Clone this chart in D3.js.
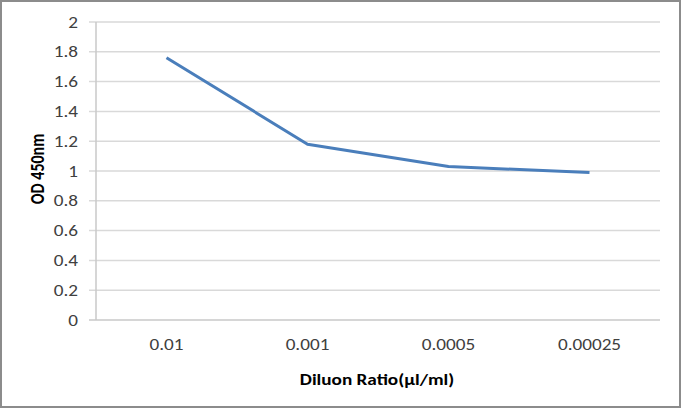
<!DOCTYPE html>
<html>
<head>
<meta charset="utf-8">
<script src="https://cdn.jsdelivr.net/npm/d3@7"></script>
<style>
  body { margin: 0; background: #fff; }
  text { font-family: Carlito, Lato, "Open Sans", sans-serif; fill: #404040; }
</style>
</head>
<body>
<div id="chart"></div>
<script>
var ratios = ["0.01", "0.001", "0.0005", "0.00025"];
var odValues = [1.76, 1.18, 1.03, 0.99];
var yTicks = [0, 0.2, 0.4, 0.6, 0.8, 1, 1.2, 1.4, 1.6, 1.8, 2];

var w = 683, h = 410,
    pl = 96, pr = 660, pt = 22, pb = 320,
    sx = 1.2; // text in the reference is stretched sideways

var svg = d3.select("#chart").append("svg")
    .attr("width", w)
    .attr("height", h);

// outer frame
svg.append("rect")
    .attr("x", 1).attr("y", 1)
    .attr("width", 679).attr("height", 406)
    .attr("fill", "#fff")
    .attr("stroke", "#8c8c8c")
    .attr("stroke-width", 2);

var x = d3.scaleBand().domain(ratios).range([pl, pr]);
var y = d3.scaleLinear().domain([0, 2]).range([pb, pt]);

// gridlines
svg.selectAll("line.grid")
    .data(yTicks)
  .enter().append("line")
    .attr("class", "grid")
    .attr("x1", pl - 7).attr("x2", pr)
    .attr("y1", function(d) { return y(d); })
    .attr("y2", function(d) { return y(d); })
    .attr("stroke", function(d) { return d === 0 ? "#c8c8c8" : "#d9d9d9"; })
    .attr("stroke-width", 1.5);

// y axis line
svg.append("line")
    .attr("x1", pl).attr("x2", pl)
    .attr("y1", pt).attr("y2", pb)
    .attr("stroke", "#c8c8c8")
    .attr("stroke-width", 1.5);

// y tick labels
svg.selectAll("text.ytick")
    .data(yTicks)
  .enter().append("text")
    .attr("class", "ytick")
    .attr("transform", function(d) {
      return "translate(78," + (y(d) + 5.5) + ")scale(" + sx + ",1)";
    })
    .attr("text-anchor", "end")
    .style("font-size", "16px")
    .text(function(d) { return d; });

// x tick labels
svg.selectAll("text.xtick")
    .data(ratios)
  .enter().append("text")
    .attr("class", "xtick")
    .attr("transform", function(d) {
      return "translate(" + (x(d) + x.bandwidth() / 2) + ",350)scale(" + sx + ",1)";
    })
    .attr("text-anchor", "middle")
    .style("font-size", "16px")
    .text(function(d) { return d; });

// axis titles
svg.append("text")
    .attr("transform", "translate(377,385)scale(" + sx + ",1)")
    .attr("text-anchor", "middle")
    .style("font-size", "16px")
    .style("font-weight", "bold")
    .style("fill", "#000")
    .text("Diluon Ratio(µl/ml)");

svg.append("text")
    .attr("transform", "translate(44,169)scale(" + sx + ",1)rotate(-90)")
    .attr("text-anchor", "middle")
    .style("font-size", "16px")
    .style("font-weight", "bold")
    .style("fill", "#000")
    .text("OD 450nm");

// series line
var line = d3.line()
    .x(function(d, i) { return x(ratios[i]) + x.bandwidth() / 2; })
    .y(function(d) { return y(d); });

svg.append("path")
    .datum(odValues)
    .attr("d", line)
    .attr("fill", "none")
    .attr("stroke", "#4a7ebb")
    .attr("stroke-width", 3)
    .attr("stroke-linejoin", "round");
</script>
</body>
</html>
